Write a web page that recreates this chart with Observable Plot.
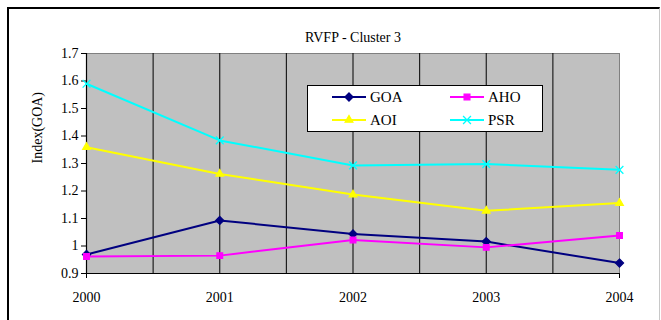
<!DOCTYPE html>
<html>
<head>
<meta charset="utf-8">
<script src="https://cdn.jsdelivr.net/npm/d3@7"></script>
<script src="https://cdn.jsdelivr.net/npm/@observablehq/plot@0.6"></script>
<style>
  html, body { margin: 0; padding: 0; background: #fff; }
  #wrap { position: relative; width: 661px; height: 320px; overflow: hidden; }
  #wrap svg text { font-family: "Liberation Serif", "Times New Roman", Tinos, "DejaVu Serif", serif; }
  #border {
    position: absolute; left: 7px; top: 7px; width: 650px; height: 330px;
    border-left: 2px solid #000; border-top: 2px solid #000; border-right: 1px solid #c8c8c8;
    pointer-events: none;
  }
  #legend {
    position: absolute; left: 307px; top: 85px; width: 234px; height: 45px;
    border: 1px solid #000; background: #fff;
    font-family: "Liberation Serif", "Times New Roman", Tinos, "DejaVu Serif", serif; font-size: 15px;
  }
  .item { position: absolute; display: flex; align-items: center; height: 16px; }
  .item svg { margin-right: 4px; overflow: visible; }
</style>
</head>
<body>
<div id="wrap"><div id="border"></div></div>
<script>
// Categories and series
const years = [2000, 2001, 2002, 2003, 2004];
const seriesNames = ["GOA", "AHO", "AOI", "PSR"];
const goa = [0.969, 1.093, 1.044, 1.016, 0.938];
const aho = [0.962, 0.965, 1.022, 0.995, 1.038];
const aoi = [1.359, 1.262, 1.187, 1.128, 1.156];
const psr = [1.590, 1.384, 1.293, 1.298, 1.277];
const seriesColors = ["#000080", "#ff00ff", "#ffff00", "#00ffff"];
const seriesSymbols = ["diamond2", "square2", "triangle2", "times"];

// Axis ticks
const yTicks = [0.9, 1, 1.1, 1.2, 1.3, 1.4, 1.5, 1.6, 1.7];
const xGrid = [2000.5, 2001, 2001.5, 2002, 2002.5, 2003, 2003.5];

const values = [goa, aho, aoi, psr];
const rows = seriesNames.flatMap((name, i) =>
  years.map((year, j) => ({series: name, year, value: values[i][j]}))
);

const font = "Liberation Serif, Times New Roman, serif";

const chart = Plot.plot({
  width: 661,
  height: 320,
  marginLeft: 86,
  marginRight: 42,
  marginTop: 53,
  marginBottom: 47,
  style: {fontFamily: font, fontSize: "14px", background: "transparent", color: "#000"},
  x: {domain: [2000, 2004]},
  y: {domain: [0.9, 1.7]},
  color: {domain: seriesNames, range: seriesColors},
  symbol: {domain: seriesNames, range: seriesSymbols},
  marks: [
    Plot.frame({fill: "#c0c0c0", stroke: "#808080"}),
    Plot.ruleX(xGrid, {stroke: "#111", strokeWidth: 1.1}),
    Plot.ruleX([2000], {stroke: "#000", strokeWidth: 1.2}),
    Plot.ruleY([0.9], {stroke: "#000", strokeWidth: 1.2}),
    Plot.axisY(yTicks, {tickFormat: d => String(d), tickSize: 5, tickPadding: 3, label: null, fontSize: 14}),
    Plot.axisX([2000, 2004], {tickSize: 5, tickFormat: () => "", label: null}),
    Plot.axisX(years, {tickSize: 0, tickPadding: 19, tickFormat: d => String(d), label: null, fontSize: 14}),
    Plot.text(["RVFP - Cluster 3"], {frameAnchor: "top", dy: -21, fontSize: 14}),
    Plot.text(["Index(GOA)"], {frameAnchor: "left", rotate: -90, dx: -49, fontSize: 14}),
    Plot.line(rows, {x: "year", y: "value", z: "series", stroke: "series", strokeWidth: 2}),
    Plot.dot(rows, {x: "year", y: "value", symbol: "series", fill: "series", stroke: "series", r: 3.6, strokeWidth: 1.3})
  ]
});

const wrap = document.getElementById("wrap");
wrap.insertBefore(chart, wrap.firstChild);

// Legend box inside the plot area
const legend = document.createElement("div");
legend.id = "legend";
const spots = [[24, 3], [142, 3], [24, 26], [142, 26]];
seriesNames.forEach((name, i) => {
  const item = document.createElement("div");
  item.className = "item";
  item.style.left = spots[i][0] + "px";
  item.style.top = spots[i][1] + "px";
  const sym = d3.symbol(
    [d3.symbolDiamond2, d3.symbolSquare2, d3.symbolTriangle2, d3.symbolTimes][i], 42
  )();
  const c = seriesColors[i];
  item.innerHTML =
    `<svg width="34" height="16"><line x1="0" x2="34" y1="8" y2="8" stroke="${c}" stroke-width="2"/>` +
    `<path transform="translate(17,8)" d="${sym}" fill="${c}" stroke="${c}" stroke-width="1.3"/></svg>` +
    `<span>${name}</span>`;
  legend.appendChild(item);
});
wrap.appendChild(legend);
</script>
</body>
</html>
